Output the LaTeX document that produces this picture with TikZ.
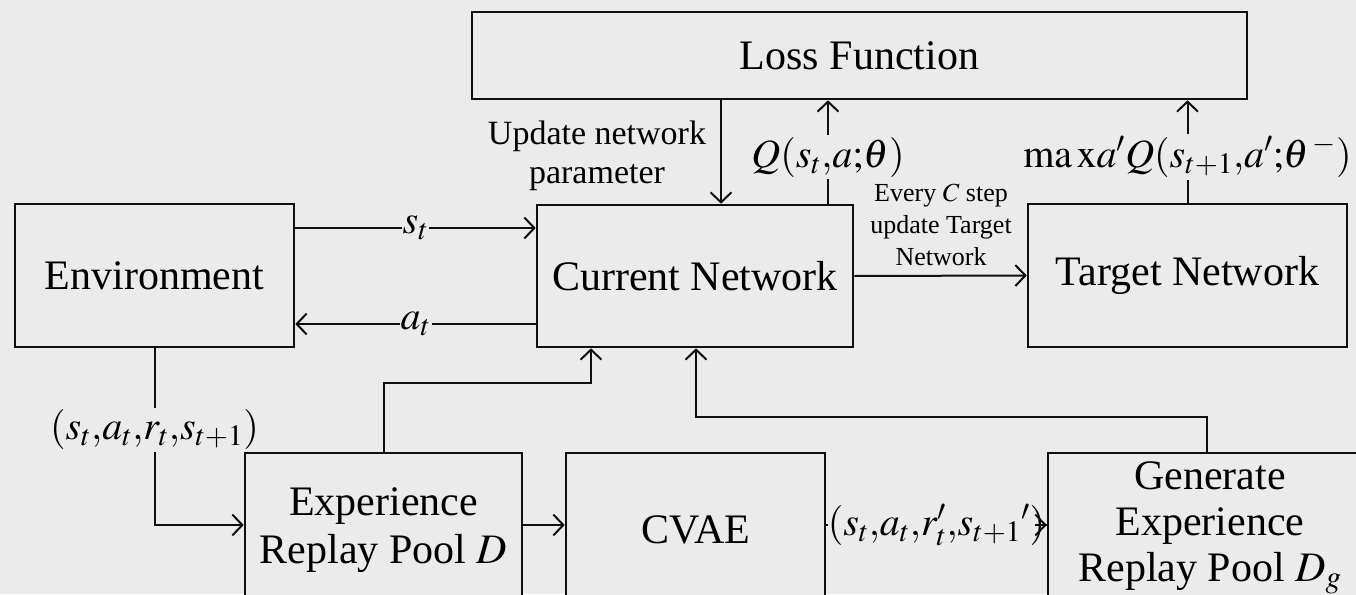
\documentclass[tikz,border=0pt]{standalone}
\usepackage{mathptmx}
\usepackage{fontspec}
\setmainfont{Liberation Serif}
\usetikzlibrary{arrows.meta}

\definecolor{bg}{RGB}{235,235,235}
\definecolor{ink}{RGB}{15,15,15}

\newcommand\fbig{\fontsize{42}{48}\selectfont}
\newcommand\fbigtight{\fontsize{42}{46}\selectfont}
\newcommand\fmid{\fontsize{34}{39}\selectfont}
\newcommand\fsmall{\fontsize{26}{32}\selectfont}
\newcommand\fmath{\fontsize{40}{46}\selectfont}

\tikzset{
  blk/.style={draw=ink, line width=2.6pt, fill=bg, inner sep=0pt,
    align=center, font=\fbig},
  lnk/.style={draw=ink, line width=2pt,
    -{Straight Barb[length=10pt,width=21pt,line width=2pt]}},
  lbl/.style={fill=bg, inner sep=2pt, font=\fmath},
  note/.style={align=center, inner sep=0pt},
}

\begin{document}
\begin{tikzpicture}[x=1pt, y=-1pt]
  \fill[bg] (0,0) rectangle (1356,594);
  \useasboundingbox (0,0) rectangle (1356,594);
  \begin{scope}
  \clip (0,0) rectangle (1356,594);

  % blocks (the bottom row runs past the lower edge)
  \node[blk, minimum width=775pt, minimum height=87pt] (loss) at (859.5,55.5) {Loss Function};
  \node[blk, minimum width=279pt, minimum height=143pt] (env) at (154.5,275.5) {Environment};
  \node[blk, minimum width=316pt, minimum height=142pt] (cur) at (695,276) {Current Network};
  \node[blk, minimum width=319pt, minimum height=143pt] (tgt) at (1187.5,275.5) {Target Network};
  \node[blk, minimum width=277pt, minimum height=154pt] (exp) at (383.5,530) {Experience\\Replay Pool $D$};
  \node[blk, minimum width=259pt, minimum height=154pt] (cvae) at (695.5,530) {CVAE};
  \node[blk, font=\fbigtight, minimum width=324pt, minimum height=150pt] (gen) at (1210,528) {Generate\\Experience\\Replay Pool $D_g$};

  % reference columns and rows for the connectors
  \coordinate (cu) at (721,0);
  \coordinate (cq) at (828,0);
  \coordinate (rs) at (0,228);
  \coordinate (ra) at (0,324);
  \coordinate (rx) at (0,525);
  \coordinate (j1) at (591,383);
  \coordinate (j2) at (696,417);
  \coordinate (cg) at (1207,0);

  % loss function feedback
  \draw[lnk] (loss.south -| cu) -- (cur.north -| cu);
  \node[note, font=\fmid] (upd) at (597,156) {Update network\\parameter};
  \draw[lnk] (cur.north -| cq) -- node[lbl, pos=0.45] {$Q(s_t{,}a{;}\theta)$} (loss.south -| cq);
  \draw[lnk] (tgt.north) -- node[lbl, pos=0.45] {$\mathrm{ma\,x}a\mathrm{'}Q(s_{t+1}{,}a\mathrm{'}{;}\theta^{\,-})$} (tgt.north |- loss.south);

  % agent / environment loop
  \draw[lnk] (env.east |- rs) -- node[lbl, inner sep=1pt] {$s_t$} (cur.west |- rs);
  \draw[lnk] (cur.west |- ra) -- node[lbl, inner sep=1pt] {$a_t$} (env.east |- ra);

  % target network sync
  \draw[lnk] (cur.east) -- (tgt.west);
  \node[note, font=\fsmall] (every) at (941,225) {Every $C$ step\\update Target\\Network};

  % experience path
  \draw[lnk] (env.south) -- node[lbl, pos=0.46] {$(s_t{,}a_t{,}r_t{,}s_{t+1})$} (env.south |- rx) -- (exp.west |- rx);
  \draw[lnk] (exp.east |- rx) -- (cvae.west |- rx);
  \draw[draw=ink, line width=2pt] (cvae.east |- rx) -- node[lbl, inner sep=0pt] {$(s_t{,}a_t{,}r_t'{,}s_{t+1}{}\mathrm{'})$} (gen.west |- rx);
  \draw[lnk] ([xshift=-12pt]gen.west |- rx) -- (gen.west |- rx);
  \draw[lnk] (exp.north) |- (j1) -- (cur.south -| j1);
  \draw[lnk] (gen.north -| cg) |- (j2) -- (cur.south -| j2);
  \end{scope}
\end{tikzpicture}
\end{document}
